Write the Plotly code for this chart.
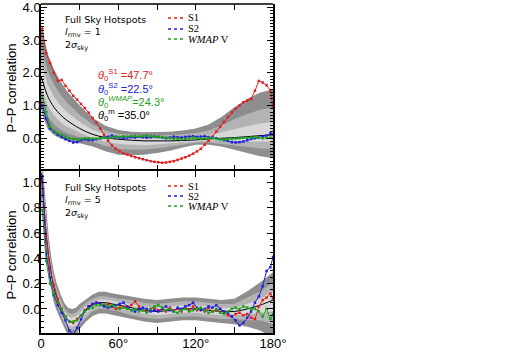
import plotly.graph_objects as go
from plotly.subplots import make_subplots

# angular grid of the measured curves (degrees)
theta = list(range(1, 180, 3)) + [180]

# ---- top panel, l_rmv = 1 ----
top_s1 = [3.35, 2.6, 2.3, 2.0, 1.75, 1.78, 1.6, 1.45, 1.3, 1.18,
          1.05, 0.92, 0.78, 0.62, 0.48, 0.3, 0.1, -0.08, -0.22, -0.32,
          -0.4, -0.46, -0.5, -0.54, -0.58, -0.61, -0.64, -0.67, -0.7, -0.72,
          -0.73, -0.75, -0.74, -0.72, -0.7, -0.66, -0.62, -0.58, -0.53, -0.47,
          -0.4, -0.32, -0.2, -0.08, 0.05, 0.2, 0.35, 0.5, 0.65, 0.78,
          0.9, 1.0, 1.1, 1.15, 1.2, 1.45, 1.75, 1.7, 1.62, 1.45,
          0.95]
top_s2 = [1.0, 0.6, 0.3, 0.2, 0.1, 0.04, -0.03, -0.08, -0.13, -0.12,
          -0.06, -0.03, -0.05, -0.06, -0.03, 0.0, 0.02, 0.05, 0.08, 0.04,
          0.02, 0.0, 0.02, 0.03, 0.02, 0.04, 0.03, 0.02, 0.03, 0.05,
          0.04, 0.03, 0.0, 0.02, 0.05, 0.03, 0.02, 0.04, 0.05, 0.06,
          0.04, 0.05, 0.06, 0.04, 0.02, 0.0, -0.03, -0.06, -0.08, -0.12,
          -0.13, -0.12, -0.1, -0.06, -0.02, 0.0, 0.02, 0.05, 0.08, 0.15,
          0.12]
top_wmap = [1.3, 0.8, 0.35, 0.22, 0.15, 0.1, 0.05, 0.0, -0.02, -0.03,
            -0.02, 0.0, 0.0, -0.01, -0.02, 0.0, 0.02, 0.0, 0.02, 0.05,
            0.04, 0.06, 0.05, 0.06, 0.07, 0.05, 0.06, 0.08, 0.06, 0.05,
            0.04, 0.03, 0.02, 0.0, -0.02, -0.01, -0.03, -0.02, 0.0, 0.02,
            0.0, -0.02, 0.0, 0.01, 0.0, -0.02, -0.03, -0.05, -0.03, -0.02,
            -0.01, 0.0, 0.02, 0.01, 0.02, 0.03, 0.02, 0.0, 0.01, 0.02,
            0.0]

# simulation mean and confidence bands (top)
top_grid = [0, 2, 5, 10, 15, 20, 30, 40, 50, 60, 70, 80, 90, 100, 110, 120, 130, 140, 150, 160, 170, 180]
top_mean = [1.9, 1.65, 1.3, 0.95, 0.72, 0.55, 0.3, 0.12, 0.02, -0.03, -0.06,
            -0.08, -0.08, -0.08, -0.07, -0.05, -0.02, 0.0, 0.02, 0.05, 0.08, 0.1]
top_hi3 = [3.4, 3.1, 2.6, 2.1, 1.75, 1.45, 1.0, 0.62, 0.38, 0.25, 0.2,
           0.18, 0.18, 0.2, 0.24, 0.3, 0.42, 0.65, 0.95, 1.2, 1.4, 1.5]
top_lo3 = [0.9, 0.6, 0.3, 0.1, 0.0, -0.08, -0.15, -0.25, -0.4, -0.5, -0.52,
           -0.5, -0.45, -0.38, -0.28, -0.2, -0.2, -0.25, -0.35, -0.45, -0.55, -0.6]
top_hi2 = [2.8, 2.52, 2.08, 1.64, 1.34, 1.09, 0.72, 0.42, 0.24, 0.14, 0.1,
           0.08, 0.08, 0.09, 0.12, 0.16, 0.24, 0.39, 0.58, 0.74, 0.87, 0.94]
top_lo2 = [1.28, 1.0, 0.68, 0.42, 0.27, 0.16, 0.02, -0.11, -0.24, -0.32, -0.35,
           -0.34, -0.31, -0.27, -0.2, -0.14, -0.13, -0.16, -0.21, -0.26, -0.31, -0.33]
top_hi1 = [2.32, 2.06, 1.66, 1.27, 1.01, 0.8, 0.5, 0.26, 0.12, 0.05, 0.01,
           -0.01, -0.01, 0.0, 0.02, 0.05, 0.1, 0.18, 0.28, 0.37, 0.45, 0.49]
top_lo1 = [1.6, 1.34, 1.0, 0.7, 0.5, 0.36, 0.17, 0.01, -0.11, -0.17, -0.2,
           -0.21, -0.19, -0.17, -0.13, -0.1, -0.07, -0.08, -0.09, -0.1, -0.11, -0.11]

# ---- bottom panel, l_rmv = 5 ----
bot_s1 = [1.0, 0.58, 0.31, 0.19, 0.08, 0.0, -0.06, -0.1, -0.11, -0.08,
          -0.05, -0.01, 0.02, 0.04, 0.05, 0.04, 0.03, 0.04, 0.02, 0.0,
          0.01, 0.02, 0.01, 0.03, 0.06, 0.02, -0.01, -0.02, 0.0, 0.01,
          -0.01, 0.0, -0.02, 0.01, -0.01, 0.0, -0.02, 0.01, -0.01, 0.02,
          -0.01, 0.0, -0.02, 0.01, -0.02, -0.01, 0.0, -0.03, -0.05, -0.06,
          -0.04, -0.03, -0.05, -0.04, -0.07, -0.08, 0.02, 0.07, 0.09, 0.12,
          0.08]
bot_s2 = [1.05, 0.44, 0.25, 0.11, 0.03, -0.03, -0.09, -0.17, -0.2, -0.15,
          -0.08, -0.02, 0.02, 0.04, 0.05, 0.04, 0.02, 0.01, 0.02, 0.03,
          0.04, 0.05, 0.02, -0.01, -0.02, 0.0, 0.01, 0.0, -0.02, -0.01,
          -0.02, 0.0, 0.02, -0.01, -0.02, 0.01, 0.0, 0.02, 0.03, 0.05,
          0.01, -0.01, 0.0, 0.02, 0.01, 0.03, 0.0, -0.02, -0.03, -0.06,
          -0.09, -0.13, -0.11, -0.07, -0.02, 0.05, 0.1, 0.18, 0.3, 0.33,
          0.41]
bot_wmap = [0.78, 0.38, 0.2, 0.12, 0.05, 0.0, -0.06, -0.1, -0.1, -0.09,
            -0.05, -0.02, 0.0, 0.01, 0.03, 0.03, 0.04, 0.02, 0.03, 0.02,
            0.0, 0.01, 0.0, -0.01, 0.0, -0.02, -0.01, -0.03, 0.0, 0.02,
            0.03, 0.01, -0.01, 0.0, -0.02, -0.03, -0.01, 0.0, -0.02, -0.01,
            0.0, 0.01, -0.01, -0.03, -0.02, 0.0, -0.03, -0.04, -0.02, 0.0,
            0.01, 0.0, 0.02, 0.01, 0.0, 0.0, -0.02, -0.06, 0.0, -0.08,
            -0.04]

bot_grid = [0, 2, 4, 6, 8, 10, 12, 15, 18, 21, 24, 27, 30, 35, 40, 45, 50, 55, 60,
            70, 80, 90, 100, 110, 120, 130, 140, 150, 160, 170, 180]
bot_mean = [1.08, 0.85, 0.6, 0.42, 0.28, 0.17, 0.1, 0.02, -0.05, -0.09, -0.1, -0.09, -0.06,
            -0.01, 0.03, 0.05, 0.05, 0.04, 0.03, 0.01, -0.01, -0.02, -0.01, 0.0, 0.0,
            -0.01, -0.02, -0.02, 0.0, 0.03, 0.07]
bot_hi3 = [1.28, 1.05, 0.78, 0.57, 0.41, 0.29, 0.21, 0.12, 0.05, 0.01, 0.0, 0.01, 0.04,
           0.08, 0.115, 0.135, 0.135, 0.125, 0.115, 0.1, 0.08, 0.07, 0.08, 0.09, 0.09,
           0.08, 0.07, 0.08, 0.14, 0.21, 0.29]
bot_lo3 = [0.88, 0.65, 0.42, 0.27, 0.15, 0.05, -0.01, -0.08, -0.15, -0.21, -0.22, -0.21, -0.16,
           -0.1, -0.055, -0.035, -0.035, -0.045, -0.055, -0.08, -0.1, -0.11, -0.1, -0.09, -0.09,
           -0.1, -0.11, -0.12, -0.14, -0.17, -0.23]
bot_hi2 = [1.2, 0.97, 0.71, 0.51, 0.36, 0.24, 0.17, 0.08, 0.01, -0.03, -0.04, -0.03, 0.0,
           0.05, 0.08, 0.1, 0.1, 0.09, 0.08, 0.07, 0.05, 0.04, 0.05, 0.06, 0.06,
           0.05, 0.04, 0.04, 0.09, 0.14, 0.21]
bot_lo2 = [0.96, 0.73, 0.49, 0.33, 0.2, 0.1, 0.03, -0.04, -0.11, -0.16, -0.17, -0.16, -0.12,
           -0.07, -0.02, 0.0, 0.0, -0.01, -0.02, -0.05, -0.07, -0.08, -0.07, -0.06, -0.06,
           -0.07, -0.08, -0.08, -0.09, -0.09, -0.12]
bot_hi1 = [1.14, 0.91, 0.65, 0.47, 0.32, 0.21, 0.13, 0.05, -0.02, -0.06, -0.07, -0.06, -0.03,
           0.02, 0.055, 0.075, 0.075, 0.065, 0.055, 0.04, 0.02, 0.01, 0.02, 0.03, 0.03,
           0.02, 0.01, 0.01, 0.04, 0.08, 0.14]
bot_lo1 = [1.02, 0.79, 0.55, 0.38, 0.24, 0.13, 0.07, -0.01, -0.08, -0.13, -0.14, -0.13, -0.09,
           -0.04, 0.005, 0.025, 0.025, 0.015, 0.005, -0.02, -0.04, -0.05, -0.04, -0.03, -0.03,
           -0.04, -0.05, -0.05, -0.04, -0.03, -0.02]

x_tickvals = [0, 30, 60, 90, 120, 150, 180]
x_ticktext = ["0", "", "60°", "", "120°", "", "180°"]

RED, BLUE, GREEN = "#e02020", "#2020e0", "#1f9f1f"
BAND_COLORS = ["#8e8e8e", "#b3b3b3", "#d8d8d8"]

# pixel frame of the plotting area
W, H = 515, 353
L, R, T, B = 41, 273, 4, 333


def px(x):
    return (x - L) / (R - L)


def py(y):
    return (B - y) / (B - T)


fig = make_subplots(rows=2, cols=1, shared_xaxes=True, vertical_spacing=0,
                    row_heights=[167, 162])


def add_panel(row, grid, bands, mean, s1, s2, wmap):
    for (hi, lo), col in zip(bands, BAND_COLORS):
        fig.add_trace(go.Scatter(x=grid + grid[::-1], y=hi + lo[::-1], fill="toself",
                                 fillcolor=col, line=dict(width=0), mode="lines",
                                 hoverinfo="skip", showlegend=False), row=row, col=1)
    fig.add_trace(go.Scatter(x=grid, y=mean, mode="lines", line=dict(color="black", width=1),
                             line_shape="spline", showlegend=False), row=row, col=1)
    for ys, col in [(s1, RED), (s2, BLUE), (wmap, GREEN)]:
        fig.add_trace(go.Scatter(x=theta, y=ys, mode="lines+markers",
                                 line=dict(color=col, width=1),
                                 marker=dict(color=col, size=2.5, symbol="square"),
                                 showlegend=False), row=row, col=1)


add_panel(1, top_grid, [(top_hi3, top_lo3), (top_hi2, top_lo2), (top_hi1, top_lo1)],
          top_mean, top_s1, top_s2, top_wmap)
add_panel(2, bot_grid, [(bot_hi3, bot_lo3), (bot_hi2, bot_lo2), (bot_hi1, bot_lo1)],
          bot_mean, bot_s1, bot_s2, bot_wmap)

tick_font = dict(family="Liberation Sans", size=13, color="black")
axis_common = dict(showline=True, linecolor="black", linewidth=1.5, mirror="allticks",
                   ticks="inside", tickcolor="black", showgrid=False, zeroline=False,
                   tickfont=tick_font, automargin=False, ticklabeloverflow="allow")

fig.update_xaxes(range=[0, 180], tickmode="array", tickvals=x_tickvals, ticktext=x_ticktext,
                 ticklen=6, tickwidth=1, ticklabelstandoff=-2, **axis_common)
# the middle border is drawn once, by the lower panel
fig.update_xaxes(showticklabels=False, showline=False, row=1, col=1)
fig.update_yaxes(range=[-1.0, 4.1], tickmode="array", tickvals=[0, 1, 2, 3, 4],
                 ticktext=["0.0", "1.0", "2.0", "3.0", "4.0"], ticklen=6, tickwidth=1,
                 ticklabelstandoff=-4,
                 minor=dict(ticks="inside", ticklen=3, dtick=0.1, tick0=0, tickcolor="black"),
                 row=1, col=1, **axis_common)
fig.update_yaxes(range=[-0.19, 1.09], tickmode="array", tickvals=[0, 0.2, 0.4, 0.6, 0.8, 1.0],
                 ticktext=["0.0", "0.2", "0.4", "0.6", "0.8", "1.0"], ticklen=6, tickwidth=1,
                 ticklabelstandoff=-4,
                 minor=dict(ticks="inside", ticklen=3, dtick=0.05, tick0=0, tickcolor="black"),
                 row=2, col=1, **axis_common)

ann = []
shapes = [dict(type="line", xref="paper", yref="paper", x0=0, x1=1, y0=1, y1=1,
               line=dict(color="black", width=1.5))]

# panel captions (three lines in one block)
for y_top, lrmv in [(12, 1), (180, 5)]:
    txt = f"Full Sky Hotspots<br><i>l</i><sub>rmv</sub> = {lrmv}<br>2<i>σ</i><sub>sky</sub>"
    ann.append(dict(x=px(63), y=py(y_top), xref="paper", yref="paper", text=txt, align="left",
                    showarrow=False, xanchor="left", yanchor="top",
                    font=dict(family="DejaVu Sans", size=9.5, color="black")))

# manual legends
legend_font = dict(family="Liberation Serif", size=10.5, color="black")
for rows_y in [(18, 29, 39), (186, 196, 206)]:
    for y, name, col in zip(rows_y, ["S1", "S2", "<i>WMAP</i> V"], [RED, BLUE, GREEN]):
        shapes.append(dict(type="line", xref="paper", yref="paper", x0=px(168), x1=px(185),
                           y0=py(y), y1=py(y), line=dict(color=col, width=1.5, dash="dot")))
        ann.append(dict(x=px(186), y=py(y), xref="paper", yref="paper", text=name,
                        showarrow=False, xanchor="left", yanchor="middle", font=legend_font))

# best-fit scale labels
theta_font = dict(family="Liberation Sans", size=11)
for y, txt, col in [(75, "<i>θ</i><sub>0</sub><sup>S1</sup> =47.7°", RED),
                    (89, "<i>θ</i><sub>0</sub><sup>S2</sup> =22.5°", BLUE),
                    (102, "<i>θ</i><sub>0</sub><sup><i>WMAP</i></sup>=24.3°", GREEN),
                    (115, "<i>θ</i><sub>0</sub><sup>m</sup> =35.0°", "black")]:
    ann.append(dict(x=px(96), y=py(y), xref="paper", yref="paper", text=txt, showarrow=False,
                    xanchor="left", yanchor="middle", font=dict(color=col, **theta_font)))

# y-axis titles
for yc in (88, 255):
    ann.append(dict(x=px(10.5), y=py(yc), xref="paper", yref="paper", text="P−P correlation",
                    textangle=-90, showarrow=False, xanchor="center", yanchor="middle",
                    font=dict(family="Liberation Sans", size=13, color="black")))

fig.update_layout(width=W, height=H, margin=dict(l=L, r=W - R, t=T, b=H - B, autoexpand=False),
                  plot_bgcolor="white", paper_bgcolor="white", showlegend=False,
                  annotations=ann, shapes=shapes)

fig.write_html("out.html", config={"displayModeBar": False},
               post_script="document.body.style.margin='0';")
